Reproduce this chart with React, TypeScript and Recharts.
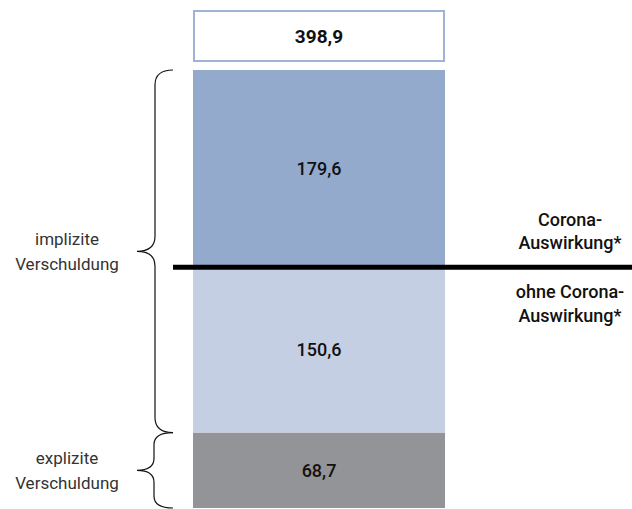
import React from 'react';
import { BarChart, Bar, XAxis, YAxis, LabelList } from 'recharts';

const categories = ['Schulden'];
const expliziteValues = [68.7];
const ohneCoronaValues = [150.6];
const coronaValues = [179.6];
const leftLabels = [['implizite', 'Verschuldung'], ['explizite', 'Verschuldung']];
const rightLabels = [['Corona-', 'Auswirkung*'], ['ohne Corona-', 'Auswirkung*']];

const data = categories.map((c, i) => ({
  name: c,
  explizite: expliziteValues[i],
  ohne: ohneCoronaValues[i],
  corona: coronaValues[i],
}));
const total = expliziteValues[0] + ohneCoronaValues[0] + coronaValues[0];

const fmt = (v: number) => v.toFixed(1).replace('.', ',');
const FONT = 'Roboto, "Liberation Sans", Arial, sans-serif';

function bracePath(xr: number, y1: number, y2: number, xs: number, xt: number, r: number) {
  const ym = (y1 + y2) / 2;
  return `M${xr},${y1} Q${xs},${y1} ${xs},${y1 + r} L${xs},${ym - r} Q${xs},${ym} ${xt},${ym} Q${xs},${ym} ${xs},${ym + r} L${xs},${y2 - r} Q${xs},${y2} ${xr},${y2}`;
}

const num = (v: any) => (typeof v === 'number' ? v : parseFloat(v));

const CenterLabel = (props: any) => {
  const vb = props.viewBox || {};
  const x = num(props.x ?? vb.x);
  const y = num(props.y ?? vb.y);
  const w = num(props.width ?? vb.width);
  const h = num(props.height ?? vb.height);
  return (
    <text x={x + w / 2} y={y + h / 2} textAnchor="middle" dominantBaseline="central"
      fontFamily={FONT} fontSize={18} fontWeight={500} fill="#111">
      {fmt(num(props.value))}
    </text>
  );
};

const ExplLabel = (props: any) => {
  const vb = props.viewBox || {};
  const x = num(props.x ?? vb.x);
  const y = num(props.y ?? vb.y);
  const w = num(props.width ?? vb.width);
  const h = num(props.height ?? vb.height);
  const ym = y + h / 2;
  return (
    <g>
      <text x={x + w / 2} y={ym} textAnchor="middle" dominantBaseline="central"
        fontFamily={FONT} fontSize={18} fontWeight={500} fill="#111">
        {fmt(num(props.value))}
      </text>
      <path d={bracePath(x - 20, y, y + h, x - 39, x - 56, 12)} fill="none" stroke="#111" strokeWidth={1.2} />
      <text x={67} y={ym - 12} textAnchor="middle" dominantBaseline="central" fontFamily={FONT} fontSize={17} fill="#333">{leftLabels[1][0]}</text>
      <text x={67} y={ym + 13} textAnchor="middle" dominantBaseline="central" fontFamily={FONT} fontSize={17} fill="#333">{leftLabels[1][1]}</text>
    </g>
  );
};

const CoronaLabel = (props: any) => {
  const vb = props.viewBox || {};
  const x = num(props.x ?? vb.x);
  const y = num(props.y ?? vb.y);
  const w = num(props.width ?? vb.width);
  const h = num(props.height ?? vb.height);
  const v = num(props.value);
  const pxPerUnit = h / v;
  const boundary = y + h;
  const implBottom = boundary + ohneCoronaValues[0] * pxPerUnit;
  const ym = (y + implBottom) / 2;
  const rx = 570;
  return (
    <g>
      <text x={x + w / 2} y={y + h / 2} textAnchor="middle" dominantBaseline="central"
        fontFamily={FONT} fontSize={18} fontWeight={500} fill="#111">
        {fmt(v)}
      </text>
      {/* total box */}
      <rect x={x + 1} y={y - 59} width={w - 2} height={50} fill="#fff" stroke="#9fb3d6" strokeWidth={2} />
      <text x={x + w / 2} y={y - 34} textAnchor="middle" dominantBaseline="central"
        fontFamily={FONT} fontSize={19} fontWeight={700} fill="#111">
        {fmt(total)}
      </text>
      {/* corona line */}
      <line x1={x - 20} x2={632} y1={boundary} y2={boundary} stroke="#000" strokeWidth={5} />
      <text x={rx} y={boundary - 48} textAnchor="middle" dominantBaseline="central" fontFamily={FONT} fontSize={18} fontWeight={500} fill="#111">{rightLabels[0][0]}</text>
      <text x={rx} y={boundary - 25} textAnchor="middle" dominantBaseline="central" fontFamily={FONT} fontSize={18} fontWeight={500} fill="#111">{rightLabels[0][1]}</text>
      <text x={rx} y={boundary + 24} textAnchor="middle" dominantBaseline="central" fontFamily={FONT} fontSize={18} fontWeight={500} fill="#111">{rightLabels[1][0]}</text>
      <text x={rx} y={boundary + 48} textAnchor="middle" dominantBaseline="central" fontFamily={FONT} fontSize={18} fontWeight={500} fill="#111">{rightLabels[1][1]}</text>
      {/* implicit brace */}
      <path d={bracePath(x - 20, y, implBottom, x - 38, x - 56, 15)} fill="none" stroke="#111" strokeWidth={1.2} />
      <text x={67} y={ym - 12} textAnchor="middle" dominantBaseline="central" fontFamily={FONT} fontSize={17} fill="#333">{leftLabels[0][0]}</text>
      <text x={67} y={ym + 13} textAnchor="middle" dominantBaseline="central" fontFamily={FONT} fontSize={17} fill="#333">{leftLabels[0][1]}</text>
    </g>
  );
};

export default function App() {
  return (
    <div style={{ position: 'absolute', left: 0, top: 0, width: 632, height: 509, background: '#fff' }}>
      <BarChart width={632} height={509} data={data} margin={{ top: 70, right: 187, bottom: 1, left: 193 }} barCategoryGap={0}>
        <XAxis dataKey="name" hide />
        <YAxis hide domain={[0, total]} />
        <Bar dataKey="explizite" stackId="a" fill="#939498" isAnimationActive={false}>
          <LabelList dataKey="explizite" content={ExplLabel} />
        </Bar>
        <Bar dataKey="ohne" stackId="a" fill="#c5cfe3" isAnimationActive={false}>
          <LabelList dataKey="ohne" content={CenterLabel} />
        </Bar>
        <Bar dataKey="corona" stackId="a" fill="#94aacc" isAnimationActive={false}>
          <LabelList dataKey="corona" content={CoronaLabel} />
        </Bar>
      </BarChart>
    </div>
  );
}
